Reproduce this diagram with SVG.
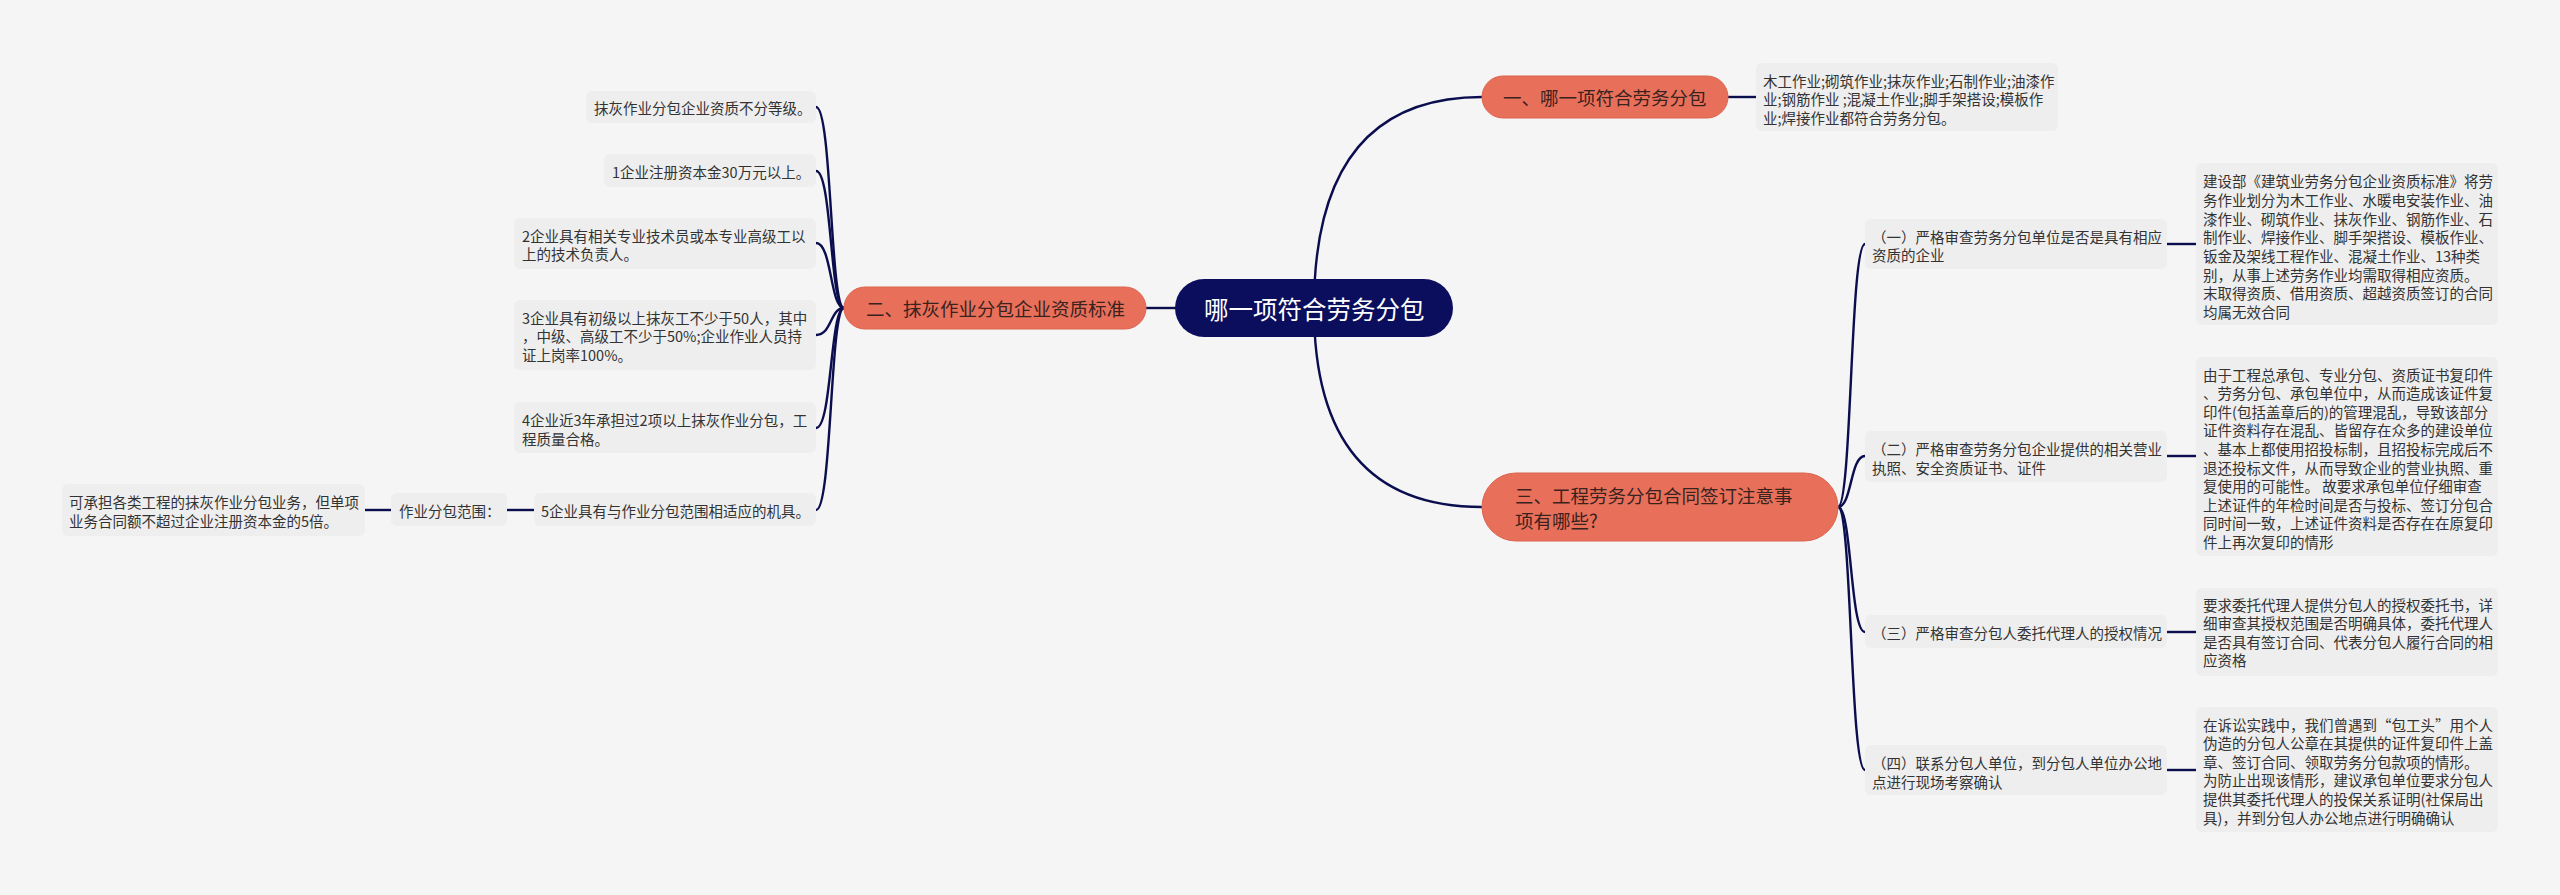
<svg xmlns="http://www.w3.org/2000/svg" width="2560" height="895" viewBox="0 0 2560 895">
<style>
.bg{fill:#f5f5f5}
.box{fill:#eeeeee}
.pill{fill:#e8705a;stroke:#db644f;stroke-width:1}
.root{fill:#0b0e5c}
.t{font-family:"Noto Sans CJK SC","Noto Sans",sans-serif;font-size:14.5px;fill:#333333;dominant-baseline:central}
.tm{font-family:"Noto Sans CJK SC","Noto Sans",sans-serif;font-size:18.5px;fill:#3a221e;dominant-baseline:central}
.tr{font-family:"Noto Sans CJK SC","Noto Sans",sans-serif;font-size:24.5px;fill:#ffffff;dominant-baseline:central}
.c{fill:none;stroke:#0b0e4e;stroke-width:2.4}
</style>
<rect class="bg" x="0" y="0" width="2560" height="895"/>
<g id="connectors">
<path class="c" d="M1314 308 Q1314 97 1482 97"/>
<path class="c" d="M1314 308 Q1314 507 1482 507"/>
<path class="c" d="M1176 308 H1146"/>
<path class="c" d="M1728 97 H1756"/>
<path class="c" d="M844 308 C830 308 832 107 816 107"/>
<path class="c" d="M844 308 C830 308 832 171 816 171"/>
<path class="c" d="M844 308 C830 308 832 243 816 243"/>
<path class="c" d="M844 308 C830 308 832 335 816 335"/>
<path class="c" d="M844 308 C830 308 832 428 816 428"/>
<path class="c" d="M844 308 C830 308 832 510 816 510"/>
<path class="c" d="M534 510 H507"/>
<path class="c" d="M391 510 H365"/>
<path class="c" d="M1838 507 C1852 507 1850 244 1865 244"/>
<path class="c" d="M1838 507 C1852 507 1850 456 1865 456"/>
<path class="c" d="M1838 507 C1852 507 1850 632 1865 632"/>
<path class="c" d="M1838 507 C1852 507 1850 770 1865 770"/>
<path class="c" d="M2167 244 H2196"/>
<path class="c" d="M2167 456 H2196"/>
<path class="c" d="M2167 632 H2196"/>
<path class="c" d="M2167 770 H2196"/>
</g>
<g id="root">
<rect class="root" x="1175" y="279" width="278" height="58" rx="29"/>
<text class="tr" x="1204" y="308">哪一项符合劳务分包</text>
</g>
<g id="n1">
<rect class="pill" x="1482" y="76" width="246" height="42" rx="21"/>
<text class="tm" x="1503" y="97">一、哪一项符合劳务分包</text>
</g>
<g id="n1a">
<rect class="box" x="1756" y="63" width="302" height="68" rx="6"/>
<text class="t" x="1763" y="80">木工作业;砌筑作业;抹灰作业;石制作业;油漆作</text>
<text class="t" x="1763" y="98.6">业;钢筋作业 ;混凝土作业;脚手架搭设;模板作</text>
<text class="t" x="1763" y="117.2">业;焊接作业都符合劳务分包。</text>
</g>
<g id="n2">
<rect class="pill" x="844" y="287" width="302" height="42" rx="21"/>
<text class="tm" x="866" y="308">二、抹灰作业分包企业资质标准</text>
</g>
<g id="n2a">
<rect class="box" x="586" y="91" width="230" height="32" rx="6"/>
<text class="t" x="594" y="107">抹灰作业分包企业资质不分等级。</text>
</g>
<g id="n2b">
<rect class="box" x="604" y="154" width="212" height="33" rx="6"/>
<text class="t" x="612" y="171">1企业注册资本金30万元以上。</text>
</g>
<g id="n2c">
<rect class="box" x="514" y="218" width="302" height="51" rx="6"/>
<text class="t" x="522" y="235">2企业具有相关专业技术员或本专业高级工以</text>
<text class="t" x="522" y="253.6">上的技术负责人。</text>
</g>
<g id="n2d">
<rect class="box" x="514" y="300" width="302" height="70" rx="6"/>
<text class="t" x="522" y="317">3企业具有初级以上抹灰工不少于50人，其中</text>
<text class="t" x="522" y="335.6">，中级、高级工不少于50%;企业作业人员持</text>
<text class="t" x="522" y="354.2">证上岗率100%。</text>
</g>
<g id="n2e">
<rect class="box" x="514" y="402" width="302" height="51" rx="6"/>
<text class="t" x="522" y="419.5">4企业近3年承担过2项以上抹灰作业分包，工</text>
<text class="t" x="522" y="438.1">程质量合格。</text>
</g>
<g id="n2f">
<rect class="box" x="534" y="493" width="282" height="33" rx="6"/>
<text class="t" x="541" y="510">5企业具有与作业分包范围相适应的机具。</text>
</g>
<g id="n2f1">
<rect class="box" x="391" y="493" width="116" height="33" rx="6"/>
<text class="t" x="399" y="510">作业分包范围：</text>
</g>
<g id="n2f2">
<rect class="box" x="62" y="484" width="303" height="52" rx="6"/>
<text class="t" x="69" y="501.5">可承担各类工程的抹灰作业分包业务，但单项</text>
<text class="t" x="69" y="520.1">业务合同额不超过企业注册资本金的5倍。</text>
</g>
<g id="n3">
<rect class="pill" x="1482" y="473" width="356" height="68" rx="34"/>
<text class="tm" x="1515" y="495">三、工程劳务分包合同签订注意事</text>
<text class="tm" x="1515" y="520">项有哪些?</text>
</g>
<g id="n3a">
<rect class="box" x="1865" y="219" width="302" height="50" rx="6"/>
<text class="t" x="1872" y="236">（一）严格审查劳务分包单位是否是具有相应</text>
<text class="t" x="1872" y="254.6">资质的企业</text>
</g>
<g id="n3a1">
<rect class="box" x="2196" y="163" width="302" height="162" rx="6"/>
<text class="t" x="2203" y="180.7">建设部《建筑业劳务分包企业资质标准》将劳</text>
<text class="t" x="2203" y="199.3">务作业划分为木工作业、水暖电安装作业、油</text>
<text class="t" x="2203" y="218">漆作业、砌筑作业、抹灰作业、钢筋作业、石</text>
<text class="t" x="2203" y="236.7">制作业、焊接作业、脚手架搭设、模板作业、</text>
<text class="t" x="2203" y="255.3">钣金及架线工程作业、混凝土作业、13种类</text>
<text class="t" x="2203" y="274">别，从事上述劳务作业均需取得相应资质。</text>
<text class="t" x="2203" y="292.7">末取得资质、借用资质、超越资质签订的合同</text>
<text class="t" x="2203" y="311.3">均属无效合同</text>
</g>
<g id="n3b">
<rect class="box" x="1865" y="431" width="302" height="51" rx="6"/>
<text class="t" x="1872" y="448.5">（二）严格审查劳务分包企业提供的相关营业</text>
<text class="t" x="1872" y="467">执照、安全资质证书、证件</text>
</g>
<g id="n3b1">
<rect class="box" x="2196" y="357" width="302" height="199" rx="6"/>
<text class="t" x="2203" y="374">由于工程总承包、专业分包、资质证书复印件</text>
<text class="t" x="2203" y="392.6">、劳务分包、承包单位中，从而造成该证件复</text>
<text class="t" x="2203" y="411.2">印件(包括盖章后的)的管理混乱，导致该部分</text>
<text class="t" x="2203" y="429.8">证件资料存在混乱、皆留存在众多的建设单位</text>
<text class="t" x="2203" y="448.4">、基本上都使用招投标制，且招投标完成后不</text>
<text class="t" x="2203" y="467">退还投标文件，从而导致企业的营业执照、重</text>
<text class="t" x="2203" y="485.6">复使用的可能性。 故要求承包单位仔细审查</text>
<text class="t" x="2203" y="504.2">上述证件的年检时间是否与投标、签订分包合</text>
<text class="t" x="2203" y="522.8">同时间一致，上述证件资料是否存在在原复印</text>
<text class="t" x="2203" y="541.4">件上再次复印的情形</text>
</g>
<g id="n3c">
<rect class="box" x="1865" y="615" width="302" height="33" rx="6"/>
<text class="t" x="1872" y="632">（三）严格审查分包人委托代理人的授权情况</text>
</g>
<g id="n3c1">
<rect class="box" x="2196" y="588" width="302" height="88" rx="6"/>
<text class="t" x="2203" y="604">要求委托代理人提供分包人的授权委托书，详</text>
<text class="t" x="2203" y="622.6">细审查其授权范围是否明确具体，委托代理人</text>
<text class="t" x="2203" y="641.2">是否具有签订合同、代表分包人履行合同的相</text>
<text class="t" x="2203" y="659.8">应资格</text>
</g>
<g id="n3d">
<rect class="box" x="1865" y="745" width="302" height="50" rx="6"/>
<text class="t" x="1872" y="762.5">（四）联系分包人单位，到分包人单位办公地</text>
<text class="t" x="1872" y="781">点进行现场考察确认</text>
</g>
<g id="n3d1">
<rect class="box" x="2196" y="707" width="302" height="125" rx="6"/>
<text class="t" x="2203" y="724">在诉讼实践中，我们曾遇到“包工头”用个人</text>
<text class="t" x="2203" y="742.6">伪造的分包人公章在其提供的证件复印件上盖</text>
<text class="t" x="2203" y="761.2">章、签订合同、领取劳务分包款项的情形。</text>
<text class="t" x="2203" y="779.8">为防止出现该情形，建议承包单位要求分包人</text>
<text class="t" x="2203" y="798.4">提供其委托代理人的投保关系证明(社保局出</text>
<text class="t" x="2203" y="817">具)，并到分包人办公地点进行明确确认</text>
</g>
</svg>
